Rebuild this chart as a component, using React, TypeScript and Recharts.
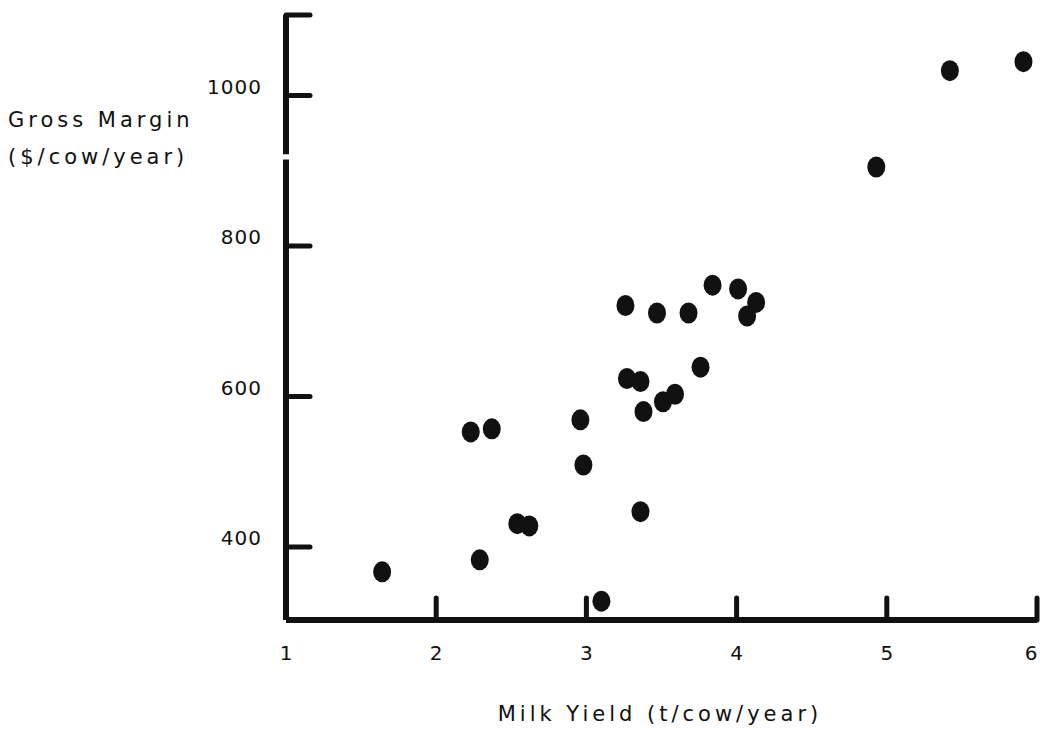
import { ScatterChart, Scatter, XAxis, YAxis, ReferenceLine } from "recharts";

const milkYield = [
  1.64, 2.23, 2.37, 2.29, 2.54, 2.62, 2.96, 2.98, 3.1, 3.26, 3.47, 3.68, 3.84,
  4.01, 4.13, 4.07, 3.76, 3.27, 3.36, 3.38, 3.51, 3.59, 3.36, 4.93, 5.42, 5.91,
];
const grossMargin = [
  367, 553, 557, 383, 431, 428, 569, 509, 328, 721, 711, 711, 748,
  743, 725, 707, 639, 624, 620, 580, 593, 603, 447, 905, 1033, 1045,
];
const xTicks = [1, 2, 3, 4, 5, 6];
const yTicks = [400, 600, 800, 1000, 1107];
const yLabels: Record<number, string> = { 400: "400", 600: "600", 800: "800", 1000: "1000" };

const data = milkYield.map((x, i) => ({ x, y: grossMargin[i] }));

const FONT = "'DejaVu Sans', sans-serif";
const INK = "#111";

function XTick({ x, y, payload }: any) {
  const v = payload.value;
  return (
    <g>
      {v !== 1 && (
        <line x1={x} x2={x} y1={y} y2={y - 22} stroke={INK} strokeWidth={5} strokeLinecap="round" />
      )}
      <text
        x={v === 6 ? x - 6 : x}
        y={y + 40}
        textAnchor="middle"
        fontSize={20}
        fontFamily={FONT}
        fill={INK}
      >
        {v}
      </text>
    </g>
  );
}

function YTick({ x, y, payload }: any) {
  const v = payload.value;
  return (
    <g>
      <line x1={x} x2={x + 24} y1={y} y2={y} stroke={INK} strokeWidth={5} strokeLinecap="round" />
      {yLabels[v] && (
        <text x={x - 24} y={y - 2} textAnchor="end" fontSize={20} fontFamily={FONT} fill={INK} letterSpacing={1}>
          {yLabels[v]}
        </text>
      )}
    </g>
  );
}

function Dot({ cx, cy }: any) {
  return <ellipse cx={cx} cy={cy} rx={9} ry={10.5} fill={INK} />;
}

export default function App() {
  return (
    <div style={{ position: "absolute", left: 0, top: 0, width: 1040, height: 730, background: "#fff" }}>
      <ScatterChart width={1040} height={730} margin={{ top: 15, right: 3, bottom: 80, left: 0 }}>
        <XAxis
          type="number"
          dataKey="x"
          domain={[1, 6]}
          ticks={xTicks}
          tick={<XTick />}
          tickLine={false}
          tickSize={0}
          tickMargin={0}
          height={30}
          axisLine={{ stroke: INK, strokeWidth: 6 }}
          interval={0}
        />
        <YAxis
          type="number"
          dataKey="y"
          domain={[303, 1107]}
          ticks={yTicks}
          tick={<YTick />}
          tickLine={false}
          tickSize={0}
          tickMargin={0}
          axisLine={false}
          width={286}
          interval={0}
        />
        <ReferenceLine
          segment={[{ x: 1, y: 303 }, { x: 1, y: 915 }]}
          stroke={INK}
          strokeWidth={6}
          ifOverflow="visible"
        />
        <ReferenceLine
          segment={[{ x: 1, y: 922 }, { x: 1, y: 1107 }]}
          stroke={INK}
          strokeWidth={6}
          ifOverflow="visible"
        />
        <Scatter data={data} shape={<Dot />} isAnimationActive={false} />
      </ScatterChart>
      <div
        style={{
          position: "absolute",
          left: 8,
          top: 102,
          fontFamily: FONT,
          fontSize: 21,
          lineHeight: "37px",
          letterSpacing: 4,
          color: INK,
          whiteSpace: "nowrap",
        }}
      >
        Gross Margin
        <br />
        ($/cow/year)
      </div>
      <div
        style={{
          position: "absolute",
          left: 0,
          width: 1320,
          top: 702,
          textAlign: "center",
          fontFamily: FONT,
          fontSize: 21,
          letterSpacing: 4,
          color: INK,
          whiteSpace: "nowrap",
        }}
      >
        Milk Yield (t/cow/year)
      </div>
    </div>
  );
}
